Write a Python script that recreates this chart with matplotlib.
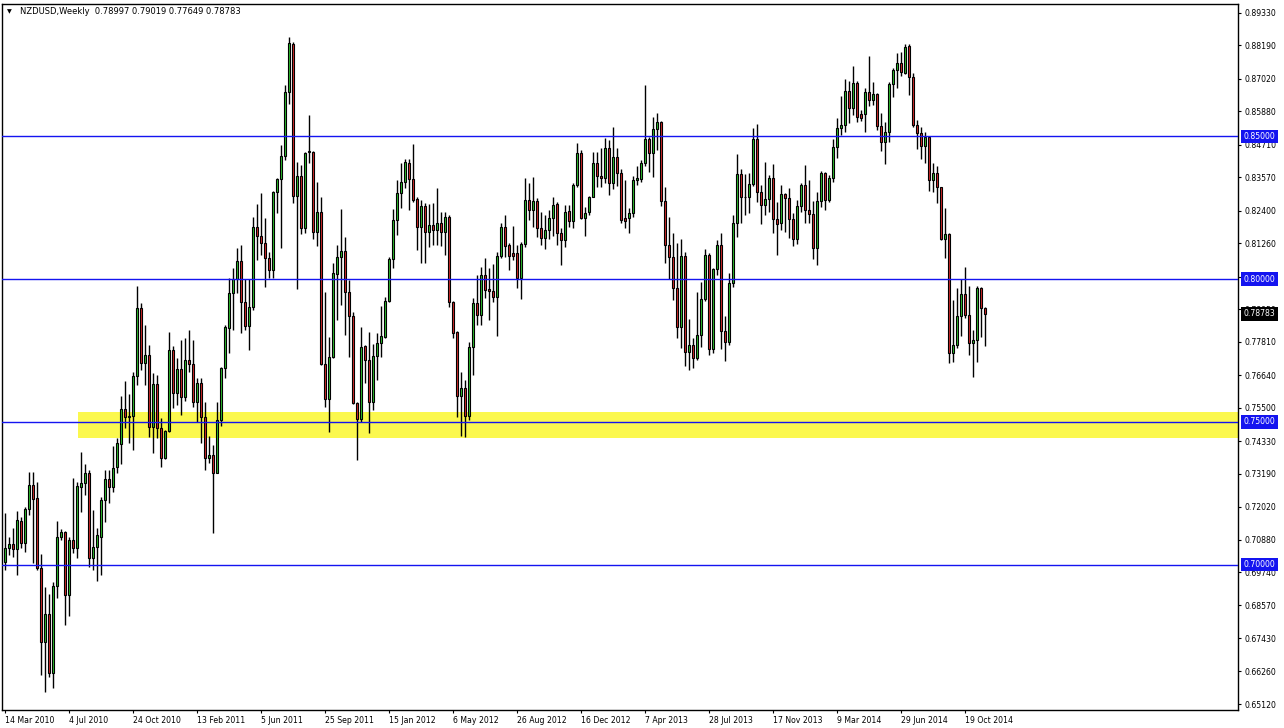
import matplotlib
matplotlib.use("Agg")
import matplotlib.pyplot as plt
from matplotlib.patches import Rectangle
from matplotlib.transforms import blended_transform_factory

# --------------------------------------------------------------------------- #
# weekly NZDUSD candles, 14 Mar 2010 .. 23 Nov 2014
# --------------------------------------------------------------------------- #
opens = [
    0.7010, 0.7057, 0.7071, 0.7054, 0.7153, 0.7077, 0.7194, 0.7279, 0.7232, 0.6987,
    0.6728, 0.6827, 0.6620, 0.6925, 0.7098, 0.7113, 0.6892, 0.7086, 0.7060, 0.7273,
    0.7285, 0.7320, 0.7025, 0.7063, 0.7098, 0.7227,
    0.7299, 0.7273, 0.7341, 0.7423, 0.7544, 0.7518, 0.7520, 0.7661, 0.7898, 0.7707,
    0.7734, 0.7481, 0.7632, 0.7477, 0.7375, 0.7469, 0.7752, 0.7602, 0.7685, 0.7586,
    0.7717, 0.7702, 0.7571, 0.7635, 0.7518,
    0.7375, 0.7383, 0.7322, 0.7507, 0.7688, 0.7830, 0.7950, 0.7999, 0.8065, 0.7921,
    0.7837, 0.7901, 0.8184, 0.8152, 0.8128, 0.8075, 0.8032, 0.8304, 0.8349, 0.8432,
    0.8654, 0.8823, 0.8291, 0.8361, 0.8178,
    0.8444, 0.8446, 0.8166, 0.8236, 0.7702, 0.7579, 0.7728, 0.8018, 0.8076, 0.8100,
    0.7956, 0.7871, 0.7565, 0.7509, 0.7766, 0.7717, 0.7571, 0.7732, 0.7775, 0.7799,
    0.7925, 0.8069, 0.8207, 0.8300, 0.8341,
    0.8408, 0.8350, 0.8279, 0.8181, 0.8256, 0.8166, 0.8190, 0.8172, 0.8195, 0.8166,
    0.8216, 0.7921, 0.7816, 0.7591, 0.7618, 0.7521, 0.7761, 0.7915, 0.7874, 0.8014,
    0.7964, 0.7960, 0.7936, 0.8081, 0.8181,
    0.8120, 0.8093, 0.8093, 0.8003, 0.8122, 0.8277, 0.8242, 0.8275, 0.8178, 0.8143,
    0.8172, 0.8213, 0.8262, 0.8163, 0.8137, 0.8239, 0.8204, 0.8330, 0.8443, 0.8215,
    0.8236, 0.8289, 0.8406, 0.8361, 0.8353,
    0.8458, 0.8335, 0.8427, 0.8371, 0.8213, 0.8213, 0.8233, 0.8347, 0.8352, 0.8408,
    0.8490, 0.8441, 0.8525, 0.8551, 0.8275, 0.8120, 0.8076, 0.7968, 0.7834, 0.8081,
    0.7746, 0.7769, 0.7723, 0.7804, 0.7929,
    0.8084, 0.7754, 0.8034, 0.8120, 0.7820, 0.7781, 0.7985, 0.8198, 0.8368, 0.8286,
    0.8286, 0.8333, 0.8490, 0.8306, 0.8260, 0.8279, 0.8353, 0.8209, 0.8195, 0.8298,
    0.8283, 0.8209, 0.8139, 0.8256, 0.8330,
    0.8242, 0.8227, 0.8110, 0.8274, 0.8370, 0.8277, 0.8355, 0.8462, 0.8530, 0.8540,
    0.8659, 0.8598, 0.8686, 0.8577, 0.8577, 0.8656, 0.8627, 0.8647, 0.8537, 0.8479,
    0.8514, 0.8682, 0.8732, 0.8756, 0.8721,
    0.8816, 0.8709, 0.8540, 0.8513, 0.8466, 0.8499, 0.8347, 0.8373, 0.8322, 0.8139,
    0.8158, 0.7743, 0.7769, 0.7871, 0.7948, 0.7874, 0.7775, 0.7787, 0.7968, 0.78997,
]
highs = [
    0.7180, 0.7098, 0.7127, 0.7189, 0.7166, 0.7203, 0.7323, 0.7323, 0.7291, 0.7037,
    0.6923, 0.6897, 0.6940, 0.7154, 0.7124, 0.7119, 0.7098, 0.7302, 0.7291, 0.7396,
    0.7353, 0.7332, 0.7192, 0.7127, 0.7236, 0.7332,
    0.7332, 0.7416, 0.7442, 0.7591, 0.7643, 0.7598, 0.7676, 0.7976, 0.7915, 0.7839,
    0.7769, 0.7672, 0.7664, 0.7513, 0.7471, 0.7816, 0.7766, 0.7723, 0.7787, 0.7793,
    0.7822, 0.7787, 0.7653, 0.7653, 0.7571,
    0.7451, 0.7419, 0.7571, 0.7693, 0.7839, 0.8003, 0.8038, 0.8108, 0.8120, 0.7999,
    0.7999, 0.8219, 0.8263, 0.8300, 0.8213, 0.8096, 0.8310, 0.8353, 0.8470, 0.8680,
    0.8847, 0.8832, 0.8411, 0.8400, 0.8446,
    0.8575, 0.8450, 0.8341, 0.8289, 0.7956, 0.7799, 0.8055, 0.8120, 0.8244, 0.8149,
    0.7997, 0.7886, 0.7571, 0.7834, 0.7770, 0.7816, 0.7772, 0.7810, 0.7906, 0.7939,
    0.8079, 0.8244, 0.8347, 0.8405, 0.8420,
    0.8420, 0.8473, 0.8289, 0.8277, 0.8265, 0.8262, 0.8265, 0.8318, 0.8236, 0.8236,
    0.8225, 0.7925, 0.7818, 0.7676, 0.7647, 0.7781, 0.7933, 0.8014, 0.8044, 0.8073,
    0.8038, 0.8053, 0.8096, 0.8198, 0.8225,
    0.8128, 0.8186, 0.8120, 0.8131, 0.8353, 0.8338, 0.8357, 0.8283, 0.8236, 0.8225,
    0.8242, 0.8289, 0.8271, 0.8178, 0.8260, 0.8260, 0.8336, 0.8478, 0.8452, 0.8254,
    0.8291, 0.8446, 0.8446, 0.8458, 0.8493,
    0.8487, 0.8532, 0.8458, 0.8384, 0.8347, 0.8248, 0.8361, 0.8396, 0.8417, 0.8680,
    0.8499, 0.8567, 0.8583, 0.8555, 0.8321, 0.8216, 0.8163, 0.8125, 0.8139, 0.8096,
    0.7859, 0.7793, 0.7956, 0.7991, 0.8104,
    0.8093, 0.8038, 0.8137, 0.8160, 0.7871, 0.8020, 0.8225, 0.8438, 0.8384, 0.8368,
    0.8373, 0.8528, 0.8543, 0.8330, 0.8411, 0.8365, 0.8403, 0.8271, 0.8330, 0.8300,
    0.8318, 0.8230, 0.8277, 0.8338, 0.8400,
    0.8347, 0.8274, 0.8306, 0.8379, 0.8376, 0.8365, 0.8491, 0.8563, 0.8642, 0.8701,
    0.8694, 0.8747, 0.8694, 0.8592, 0.8668, 0.8782, 0.8692, 0.8651, 0.8581, 0.8549,
    0.8692, 0.8741, 0.8791, 0.8794, 0.8822,
    0.8823, 0.8721, 0.8557, 0.8532, 0.8516, 0.8501, 0.8408, 0.8396, 0.8324, 0.8248,
    0.8163, 0.7927, 0.7968, 0.7999, 0.8044, 0.7976, 0.7822, 0.7976, 0.7974, 0.79019,
]
lows = [
    0.6981, 0.7034, 0.7028, 0.6964, 0.7057, 0.7046, 0.7174, 0.7005, 0.6981, 0.6614,
    0.6555, 0.6606, 0.6567, 0.6882, 0.7086, 0.6789, 0.6820, 0.7040, 0.7025, 0.7186,
    0.7244, 0.6991, 0.6981, 0.6944, 0.6964, 0.7151,
    0.7215, 0.7256, 0.7320, 0.7353, 0.7477, 0.7425, 0.7402, 0.7629, 0.7682, 0.7629,
    0.7448, 0.7392, 0.7442, 0.7341, 0.7369, 0.7466, 0.7548, 0.7559, 0.7524, 0.7574,
    0.7676, 0.7551, 0.7501, 0.7425, 0.7332,
    0.7355, 0.7110, 0.7320, 0.7486, 0.7653, 0.7743, 0.7822, 0.7950, 0.7813, 0.7822,
    0.7752, 0.7892, 0.8067, 0.8085, 0.7971, 0.8003, 0.8003, 0.8230, 0.8108, 0.8417,
    0.8613, 0.8268, 0.7964, 0.8158, 0.8160,
    0.8405, 0.8139, 0.8116, 0.7699, 0.7553, 0.7466, 0.7725, 0.7857, 0.7909, 0.7804,
    0.7728, 0.7563, 0.7367, 0.7501, 0.7635, 0.7460, 0.7542, 0.7647, 0.7728, 0.7793,
    0.7921, 0.8038, 0.8155, 0.8248, 0.8318,
    0.8242, 0.8271, 0.8102, 0.8058, 0.8055, 0.8114, 0.8120, 0.8120, 0.8116, 0.8085,
    0.7904, 0.7793, 0.7518, 0.7451, 0.7448, 0.7507, 0.7664, 0.7839, 0.7839, 0.7933,
    0.7857, 0.7921, 0.7801, 0.8073, 0.8079,
    0.8032, 0.8067, 0.7968, 0.7929, 0.8114, 0.8207, 0.8181, 0.8149, 0.8120, 0.8104,
    0.8139, 0.8151, 0.8120, 0.8050, 0.8114, 0.8184, 0.8178, 0.8322, 0.8209, 0.8151,
    0.8225, 0.8287, 0.8324, 0.8324, 0.8338,
    0.8295, 0.8314, 0.8326, 0.8195, 0.8178, 0.8160, 0.8219, 0.8330, 0.8341, 0.8396,
    0.8376, 0.8359, 0.8452, 0.8256, 0.8058, 0.7999, 0.7927, 0.7793, 0.7758, 0.7696,
    0.7682, 0.7688, 0.7717, 0.7764, 0.7925,
    0.7734, 0.7740, 0.8014, 0.7754, 0.7714, 0.7769, 0.7974, 0.8146, 0.8195, 0.8225,
    0.8230, 0.8326, 0.8271, 0.8193, 0.8225, 0.8236, 0.8160, 0.8084, 0.8172, 0.8166,
    0.8143, 0.8116, 0.8123, 0.8236, 0.8195,
    0.8195, 0.8071, 0.8050, 0.8254, 0.8242, 0.8271, 0.8341, 0.8425, 0.8505, 0.8514,
    0.8546, 0.8575, 0.8549, 0.8554, 0.8516, 0.8607, 0.8610, 0.8522, 0.8449, 0.8402,
    0.8479, 0.8639, 0.8670, 0.8712, 0.8717,
    0.8645, 0.8534, 0.8455, 0.8420, 0.8408, 0.8310, 0.8306, 0.8268, 0.8137, 0.8073,
    0.7705, 0.7711, 0.7758, 0.7801, 0.7863, 0.7734, 0.7656, 0.7711, 0.7799, 0.77649,
]
closes = [
    0.7057, 0.7071, 0.7054, 0.7156, 0.7077, 0.7195, 0.7279, 0.7230, 0.6987, 0.6728,
    0.6827, 0.6620, 0.6925, 0.7098, 0.7113, 0.6892, 0.7086, 0.7057, 0.7276, 0.7285,
    0.7320, 0.7025, 0.7063, 0.7104, 0.7227, 0.7299,
    0.7273, 0.7337, 0.7425, 0.7544, 0.7516, 0.7520, 0.7661, 0.7898, 0.7707, 0.7734,
    0.7481, 0.7632, 0.7477, 0.7375, 0.7469, 0.7752, 0.7602, 0.7685, 0.7586, 0.7717,
    0.7702, 0.7571, 0.7635, 0.7518, 0.7375,
    0.7383, 0.7322, 0.7507, 0.7688, 0.7834, 0.7950, 0.7999, 0.8065, 0.7921, 0.7837,
    0.7901, 0.8184, 0.8152, 0.8128, 0.8075, 0.8032, 0.8304, 0.8349, 0.8432, 0.8654,
    0.8826, 0.8291, 0.8361, 0.8178, 0.8443,
    0.8449, 0.8166, 0.8236, 0.7702, 0.7579, 0.7728, 0.8020, 0.8076, 0.8100, 0.7956,
    0.7871, 0.7565, 0.7509, 0.7764, 0.7717, 0.7571, 0.7732, 0.7775, 0.7801, 0.7925,
    0.8069, 0.8207, 0.8300, 0.8341, 0.8409,
    0.8350, 0.8277, 0.8181, 0.8256, 0.8166, 0.8190, 0.8172, 0.8195, 0.8166, 0.8216,
    0.7921, 0.7813, 0.7591, 0.7618, 0.7521, 0.7761, 0.7915, 0.7874, 0.8014, 0.7962,
    0.7960, 0.7936, 0.8081, 0.8181, 0.8116,
    0.8081, 0.8082, 0.8003, 0.8122, 0.8277, 0.8242, 0.8275, 0.8178, 0.8143, 0.8172,
    0.8215, 0.8260, 0.8163, 0.8137, 0.8234, 0.8204, 0.8330, 0.8441, 0.8215, 0.8233,
    0.8289, 0.8406, 0.8361, 0.8353, 0.8458,
    0.8335, 0.8427, 0.8371, 0.8207, 0.8205, 0.8233, 0.8347, 0.8353, 0.8408, 0.8490,
    0.8441, 0.8525, 0.8551, 0.8275, 0.8120, 0.8076, 0.7968, 0.7834, 0.8081, 0.7746,
    0.7769, 0.7723, 0.7804, 0.7929, 0.8085,
    0.7754, 0.8034, 0.8120, 0.7820, 0.7781, 0.7985, 0.8198, 0.8368, 0.8286, 0.8289,
    0.8333, 0.8490, 0.8306, 0.8260, 0.8279, 0.8353, 0.8209, 0.8193, 0.8298, 0.8283,
    0.8209, 0.8139, 0.8256, 0.8330, 0.8242,
    0.8227, 0.8110, 0.8274, 0.8370, 0.8277, 0.8355, 0.8462, 0.8530, 0.8540, 0.8659,
    0.8598, 0.8686, 0.8569, 0.8565, 0.8656, 0.8627, 0.8647, 0.8537, 0.8479, 0.8514,
    0.8682, 0.8732, 0.8756, 0.8724, 0.8814,
    0.8709, 0.8540, 0.8513, 0.8466, 0.8499, 0.8347, 0.8373, 0.8322, 0.8139, 0.8158,
    0.7743, 0.7769, 0.7871, 0.7948, 0.7874, 0.7775, 0.7787, 0.7968, 0.7900, 0.78783,
]

date_labels = [
    "14 Mar 2010", "4 Jul 2010", "24 Oct 2010", "13 Feb 2011", "5 Jun 2011",
    "25 Sep 2011", "15 Jan 2012", "6 May 2012", "26 Aug 2012", "16 Dec 2012",
    "7 Apr 2013", "28 Jul 2013", "17 Nov 2013", "9 Mar 2014", "29 Jun 2014",
    "19 Oct 2014",
]
weeks_per_label = 16

price_ticks = [
    0.89330, 0.88190, 0.87020, 0.85880, 0.84710, 0.83570, 0.82400, 0.81260,
    0.80090, 0.78950, 0.77810, 0.76640, 0.75500, 0.74330, 0.73190, 0.72020,
    0.70880, 0.69740, 0.68570, 0.67430, 0.66260, 0.65120,
]
hidden_ticks = [0.80090]  # fully covered by the 0.80000 tag in the terminal
levels = [0.85, 0.80, 0.75, 0.70]
zone_low, zone_high = 0.7445, 0.7536
zone_start_week = 18.3
last_price = closes[-1]
title = "NZDUSD,Weekly  0.78997 0.79019 0.77649 0.78783"

BULL = "#2fbf2f"
BEAR = "#d42a2a"
LINE = "#1414f0"
ZONE = "#fbf84e"
FONT = 5.6

# --------------------------------------------------------------------------- #
# figure
# --------------------------------------------------------------------------- #
W, H = 1284, 728
fig = plt.figure(figsize=(W / 100, H / 100), dpi=100)
fig.patch.set_facecolor("white")
ax = fig.add_axes([2 / W, 18 / H, 1236 / W, 706 / H])

n = len(closes)
x = list(range(n))
ax.set_xlim(-0.75, 308.25)
ax.set_ylim(0.6491, 0.89635)

# support zone (drawn as background)
ax.add_patch(Rectangle((zone_start_week, zone_low), 400, zone_high - zone_low,
                       facecolor=ZONE, edgecolor="none", zorder=0.5))

# wicks + bodies
ax.vlines(x, lows, highs, color="black", linewidth=1.0, zorder=2)
bottoms = [min(o, c) for o, c in zip(opens, closes)]
heights = [max(abs(c - o), 0.00008) for o, c in zip(opens, closes)]
colors = [BULL if c >= o else BEAR for o, c in zip(opens, closes)]
ax.bar(x, heights, bottom=bottoms, width=0.72, color=colors,
       edgecolor="black", linewidth=0.8, zorder=3)

# horizontal levels
for lv in levels:
    ax.axhline(lv, color=LINE, linewidth=1.0, zorder=4)

# axes styling
for s in ax.spines.values():
    s.set_color("black")
    s.set_linewidth(1.0)
ax.yaxis.tick_right()
ax.set_yticks(price_ticks)
ax.set_yticklabels(["" if p in hidden_ticks else f"{p:.5f}" for p in price_ticks])
ax.tick_params(axis="y", which="both", direction="out", length=2.5, width=0.8,
               pad=2.5, labelsize=FONT, colors="black")
ax.set_xticks([i * weeks_per_label for i in range(len(date_labels))])
ax.set_xticklabels(date_labels)
for lbl in ax.get_xticklabels():
    lbl.set_horizontalalignment("left")
ax.tick_params(axis="x", direction="out", length=2.5, width=0.8, pad=1.5,
               labelsize=FONT, colors="black")

# price tags on the right axis
tr = blended_transform_factory(ax.transAxes, ax.transData)
tag_box = dict(boxstyle="square,pad=0.3", edgecolor="none")
for lv in levels:
    ax.text(1.0045, lv, f"{lv:.5f}", transform=tr, ha="left", va="center",
            fontsize=FONT, color="white", clip_on=False, zorder=6,
            bbox=dict(tag_box, facecolor=LINE))
ax.text(1.0045, last_price, f"{last_price:.5f}", transform=tr, ha="left",
        va="center", fontsize=FONT, color="white", clip_on=False, zorder=6,
        bbox=dict(tag_box, facecolor="black"))

# chart caption
fig.text(7 / W, 1 - 12 / H, "\u25bc", fontsize=4.5, va="center", ha="left")
fig.text(20 / W, 1 - 12 / H, title, fontsize=6.0, va="center", ha="left")

fig.savefig("out.png", dpi=100)
plt.close(fig)
